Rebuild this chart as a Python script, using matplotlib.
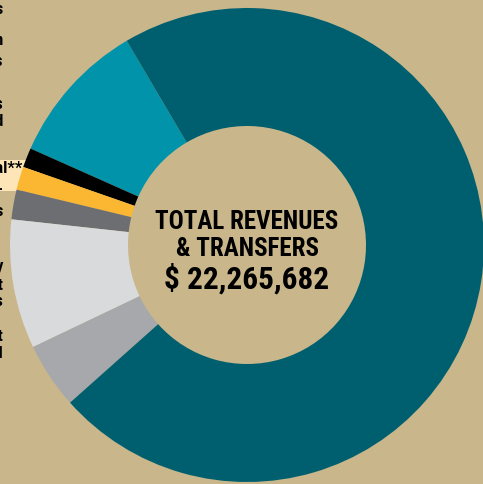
import matplotlib
matplotlib.use("Agg")
import matplotlib.pyplot as plt
from matplotlib import font_manager as fm
from matplotlib.patches import Rectangle

# ---- data ----
categories = ["Investment Income", "Other Revenue", "Capital Appropriations**",
              "Sales & Services", "Gifts & Grants", "Auxiliary Enterprises",
              "State Appropriation"]
shares = [9.86, 1.33, 1.58, 2.03, 8.81, 4.50, 71.89]
colors = ["#0093aa", "#000000", "#fbb731", "#6d6e71", "#d9dadc", "#a6a8ab", "#005f6e"]
center_title = ["TOTAL REVENUES", "& TRANSFERS"]
center_total = "$ 22,265,682"
legend_lines = ["Tuition & Fees", "State Appropriation", "Grants & Contracts",
                "Auxiliary Sales", "Other Sources of Fund", "Appropriation for Capital**",
                "-", "Gifts & Investments", "Federal Assistance & Supply",
                "Indirect Cost", "Sales & Services", "Institutional Support Grant",
                "Interfund Transfer Total"]
legend_y = [10, 41, 62, 105, 122, 168, 189, 211, 266, 285, 302, 337, 354]

BG = "#c9b68b"
W, H = 483, 485

names = set(f.name for f in fm.fontManager.ttflist)
cond = "DejaVu Sans"
for cand in ["Roboto Condensed", "Archivo Narrow", "Barlow Semi Condensed", "Barlow Condensed"]:
    if cand in names:
        cond = cand
        break

fig = plt.figure(figsize=(W / 100, H / 100), dpi=100, facecolor=BG)
ax = fig.add_axes([0, 0, 1, 1])
ax.set_facecolor(BG)

# cream highlight behind one legend entry
ax.add_patch(Rectangle((0, H - 192), 40, 31, facecolor="#fde5b8", edgecolor="none", zorder=0))

cx, cy = 247, H - 246
R, r_in = 237, 119
ax.pie(shares, colors=colors, startangle=120.5, counterclock=True,
       center=(cx, cy), radius=R,
       wedgeprops=dict(width=R - r_in, edgecolor="none", linewidth=0))
ax.set_xlim(0, W)
ax.set_ylim(0, H)
ax.set_aspect("auto")
ax.axis("off")

for txt, y in zip(legend_lines, legend_y):
    x = 22 if txt.endswith("**") else 3
    ax.text(x, H - y, txt, ha="right", va="center", fontsize=12,
            fontweight="bold", family=cond, color="black", zorder=1)

ax.text(cx, H - 222, center_title[0], ha="center", va="center", fontsize=18,
        fontweight="bold", family=cond, color="black", zorder=5)
ax.text(cx, H - 249, center_title[1], ha="center", va="center", fontsize=18,
        fontweight="bold", family=cond, color="black", zorder=5)
ax.text(cx, H - 279, center_total, ha="center", va="center", fontsize=22.5,
        fontweight="bold", family=cond, color="black", zorder=5)

fig.savefig("out.png", dpi=100, facecolor=BG)
